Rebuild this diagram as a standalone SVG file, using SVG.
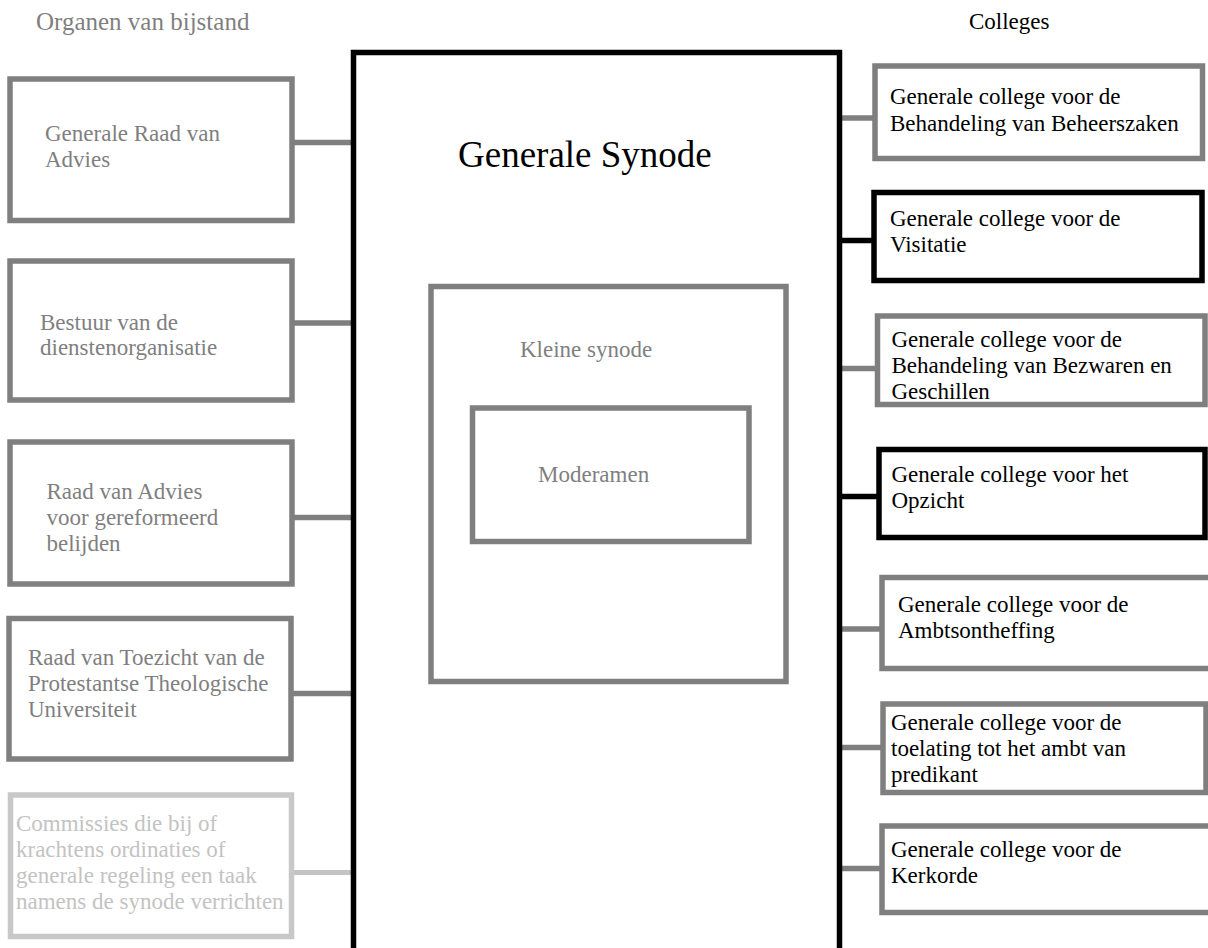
<svg xmlns="http://www.w3.org/2000/svg" width="1208" height="948" viewBox="0 0 1208 948" font-family="'Liberation Serif', 'DejaVu Serif', serif">
<style>
text{font-family:"Liberation Serif","DejaVu Serif",serif;font-size:23px}
.g{fill:#7f7f7f}
.k{fill:#000}
.l{fill:#c3c3c3}
.bg{fill:#fff;stroke:#7f7f7f;stroke-width:5.5}
.bk{fill:#fff;stroke:#000;stroke-width:5.5}
.bl{fill:#fff;stroke:#c8c8c8;stroke-width:5.5}
.cg{stroke:#7f7f7f;stroke-width:5.5;fill:none}
.ck{stroke:#000;stroke-width:5.5;fill:none}
.cl{stroke:#c3c3c3;stroke-width:5;fill:none;stroke-linecap:round}
</style>
<rect width="1208" height="948" fill="#fff"/>
<text x="36" y="30" class="g" style="font-size:25px">Organen van bijstand</text>
<text x="969" y="29" class="k">Colleges</text>

<g id="connectors">
<line class="cg" x1="292" y1="142.5" x2="352" y2="142.5"/>
<line class="cg" x1="292" y1="323" x2="352" y2="323"/>
<line class="cg" x1="292" y1="517.5" x2="352" y2="517.5"/>
<line class="cg" x1="291" y1="693.5" x2="352" y2="693.5"/>
<line class="cl" x1="292" y1="872.5" x2="351" y2="872.5"/>
<line class="cg" x1="840" y1="118" x2="875" y2="118"/>
<line class="ck" x1="840" y1="240.5" x2="874" y2="240.5"/>
<line class="cg" x1="840" y1="368.5" x2="877" y2="368.5"/>
<line class="ck" x1="840" y1="496.5" x2="879" y2="496.5"/>
<line class="cg" x1="840" y1="629" x2="882" y2="629"/>
<line class="cg" x1="840" y1="747.5" x2="883" y2="747.5"/>
<line class="cg" x1="840" y1="868.5" x2="882" y2="868.5"/>
</g>

<g id="generale-synode">
<rect class="bk" x="353.5" y="52.5" width="486" height="920"/>
<text x="458" y="167" class="k" style="font-size:37px">Generale Synode</text>
</g>
<g id="kleine-synode">
<rect class="bg" x="431" y="286.5" width="355" height="395"/>
<text x="520" y="357" class="g">Kleine synode</text>
</g>
<g id="moderamen">
<rect class="bg" x="472.5" y="408" width="276.5" height="133.5"/>
<text x="538" y="482" class="g">Moderamen</text>
</g>

<g id="generale-raad">
<rect class="bg" x="10" y="79" width="282" height="141.5"/>
<text x="45" y="141" class="g">Generale Raad van</text>
<text x="45" y="167" class="g">Advies</text>
</g>
<g id="bestuur">
<rect class="bg" x="10" y="261" width="282" height="139"/>
<text x="40" y="330" class="g">Bestuur van de</text>
<text x="40" y="355" class="g">dienstenorganisatie</text>
</g>
<g id="raad-advies">
<rect class="bg" x="10" y="442" width="282" height="142"/>
<text x="46.5" y="499" class="g">Raad van Advies</text>
<text x="46.5" y="525" class="g">voor gereformeerd</text>
<text x="46.5" y="551" class="g">belijden</text>
</g>
<g id="raad-toezicht">
<rect class="bg" x="9" y="618.5" width="282" height="140.5"/>
<text x="28" y="665" class="g">Raad van Toezicht van de</text>
<text x="28" y="691" class="g">Protestantse Theologische</text>
<text x="28" y="717" class="g">Universiteit</text>
</g>
<g id="commissies">
<rect class="bl" x="10.5" y="795" width="281" height="141.5"/>
<text x="16" y="831" class="l">Commissies die bij of</text>
<text x="16" y="857" class="l">krachtens ordinaties of</text>
<text x="16" y="883" class="l">generale regeling een taak</text>
<text x="16" y="909" class="l">namens de synode verrichten</text>
</g>

<g id="college-beheer">
<rect class="bg" x="875" y="66" width="327.5" height="92.5"/>
<text x="890" y="104" class="k">Generale college voor de</text>
<text x="890" y="131" class="k">Behandeling van Beheerszaken</text>
</g>
<g id="college-visitatie">
<rect class="bk" x="874" y="192.5" width="328" height="88"/>
<text x="890" y="226" class="k">Generale college voor de</text>
<text x="890" y="252" class="k">Visitatie</text>
</g>
<g id="college-bezwaren">
<rect class="bg" x="877.5" y="316" width="327.5" height="88.5"/>
<text x="891.5" y="347" class="k">Generale college voor de</text>
<text x="891.5" y="373" class="k">Behandeling van Bezwaren en</text>
<text x="891.5" y="399" class="k">Geschillen</text>
</g>
<g id="college-opzicht">
<rect class="bk" x="879" y="449.5" width="326" height="88"/>
<text x="891.5" y="482" class="k">Generale college voor het</text>
<text x="891.5" y="508" class="k">Opzicht</text>
</g>
<g id="college-ambt">
<rect class="bg" x="882" y="577.5" width="330" height="91"/>
<text x="898" y="612" class="k">Generale college voor de</text>
<text x="898" y="638" class="k">Ambtsontheffing</text>
</g>
<g id="college-toelating">
<rect class="bg" x="883" y="704" width="323" height="88.5"/>
<text x="891" y="730" class="k">Generale college voor de</text>
<text x="891" y="756" class="k">toelating tot het ambt van</text>
<text x="891" y="782" class="k">predikant</text>
</g>
<g id="college-kerkorde">
<rect class="bg" x="882" y="826" width="330" height="86.5"/>
<text x="891" y="857" class="k">Generale college voor de</text>
<text x="891" y="883" class="k">Kerkorde</text>
</g>
</svg>
